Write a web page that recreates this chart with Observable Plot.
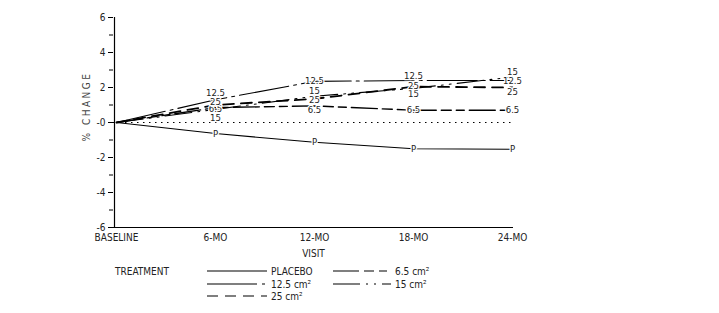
<!DOCTYPE html>
<html>
<head>
<meta charset="utf-8">
<script src="https://cdn.jsdelivr.net/npm/d3@7"></script>
<script src="https://cdn.jsdelivr.net/npm/@observablehq/plot@0.6"></script>
<style>
  body { margin: 0; background: #fff; }
  #chart { width: 719px; }
</style>
</head>
<body>
<div id="chart"></div>
<script>
// ---- data ----
const visits = ["BASELINE", "6-MO", "12-MO", "18-MO", "24-MO"];
const placebo = [0, -0.63, -1.13, -1.5, -1.53];
const dose6_5 = [0, 0.85, 0.95, 0.7, 0.7];
const dose12_5 = [0, 1.3, 2.35, 2.4, 2.4];
const dose15 = [0, 0.75, 1.5, 1.95, 2.6];
const dose25 = [0, 1.0, 1.35, 2.05, 2.0];
const pointLabels = ["P", "6.5", "12.5", "15", "25"];
const legendLabels = ["PLACEBO", "6.5 cm²", "12.5 cm²", "15 cm²", "25 cm²"];
const yTicks = [-6, -4, -2, 0, 2, 4, 6];
const yTickLabels = ["-6", "-4", "-2", "-0", "2", "4", "6"];
const yMinorTicks = [-5, -3, -1, 1, 3, 5];

// ---- styles (not data) ----
const seriesValues = [placebo, dose6_5, dose12_5, dose15, dose25];
const dash = [null, "26,5,10,5,8,5", "50,5,3,5", "27,6,2,6,2,6", "11,7"];
const widths = [1.1, 1.4, 1.1, 1.1, 1.8];
// vertical label nudges (px) at 6, 12, 18, 24 months, to avoid overlaps
const labelNudge = [
  [0, 0, 0, 0],
  [1.5, 4, 0, 0],
  [-7, 0, -4.5, 0],
  [9, -5, 6, -5.5],
  [-3, 1.5, -1, 4.5]
];
const font = '"Liberation Sans Narrow", "DejaVu Sans Condensed", "Arial Narrow", sans-serif';

const marks = [];
marks.push(Plot.ruleY([0], {strokeDasharray: "1.5,4.5", stroke: "#000", strokeWidth: 1}));
seriesValues.forEach((vals, s) => {
  const rows = vals.map((v, i) => ({visit: visits[i], value: v}));
  marks.push(Plot.line(rows, {x: "visit", y: "value", stroke: "#000", strokeWidth: widths[s],
    strokeDasharray: dash[s] || undefined}));
});
seriesValues.forEach((vals, s) => {
  vals.forEach((v, i) => {
    if (i === 0) return;
    marks.push(Plot.text([{visit: visits[i], value: v}], {
      x: "visit", y: "value", text: () => pointLabels[s],
      dy: labelNudge[s][i - 1], fill: "#222", stroke: "white", strokeWidth: 2.5,
      fontSize: 9.5, paintOrder: "stroke"
    }));
  });
});
marks.push(Plot.ruleY([-6], {stroke: "#000", strokeWidth: 1.2}));
marks.push(Plot.ruleX([visits[0]], {y1: -6, y2: 6, dx: -2, stroke: "#000", strokeWidth: 1.2}));
marks.push(Plot.axisY({ticks: yTicks, tickFormat: d => yTickLabels[yTicks.indexOf(d)],
  tickSize: 5, tickPadding: 3, stroke: "#000", label: null, fill: "#222"}));
marks.push(Plot.axisY({ticks: yMinorTicks, tickSize: 4, tickFormat: () => "", stroke: "#000", label: null}));
marks.push(Plot.text(["% CHANGE"], {frameAnchor: "left", rotate: -90, dx: -27, dy: -16,
  textAnchor: "middle", fontSize: 10, fill: "#444", text: d => d, className: "ylab"}));
marks.push(Plot.text(["VISIT"], {frameAnchor: "bottom", dy: 29, fontSize: 10, fill: "#222", text: d => d}));

const chart = Plot.plot({
  width: 719,
  height: 262,
  marginLeft: 113,
  marginRight: 206,
  marginTop: 17,
  marginBottom: 35,
  style: {fontFamily: font, fontSize: "10px", background: "#fff", color: "#222"},
  x: {type: "point", domain: visits, padding: 0, insetLeft: 2, label: null, tickSize: 0, tickPadding: 6},
  y: {domain: [-6, 6], label: null},
  marks
});
d3.select(chart).selectAll(".ylab text").style("letter-spacing", "2.5px");
document.getElementById("chart").appendChild(chart);

// ---- legend (below the SVG) ----
const leg = d3.select("#chart").append("svg")
  .attr("width", 719).attr("height", 51)
  .style("display", "block")
  .style("font-family", font).style("font-size", "10px");
leg.append("text").attr("x", 115).attr("y", 9).attr("dy", "0.35em").attr("fill", "#222").text("TREATMENT");
const legendPos = [
  {x: 207, y: 9}, {x: 333, y: 9}, {x: 207, y: 22}, {x: 333, y: 22}, {x: 207, y: 34}
];
const lineLen = [60, 58, 60, 58, 60];
legendLabels.forEach((lab, s) => {
  const p = legendPos[s];
  leg.append("line").attr("x1", p.x).attr("x2", p.x + lineLen[s]).attr("y1", p.y).attr("y2", p.y)
    .attr("stroke", "#000").attr("stroke-width", 1.1)
    .attr("stroke-dasharray", dash[s]);
  leg.append("text").attr("x", p.x + lineLen[s] + 4).attr("y", p.y).attr("dy", "0.35em")
    .attr("fill", "#222").text(lab);
});
</script>
</body>
</html>
